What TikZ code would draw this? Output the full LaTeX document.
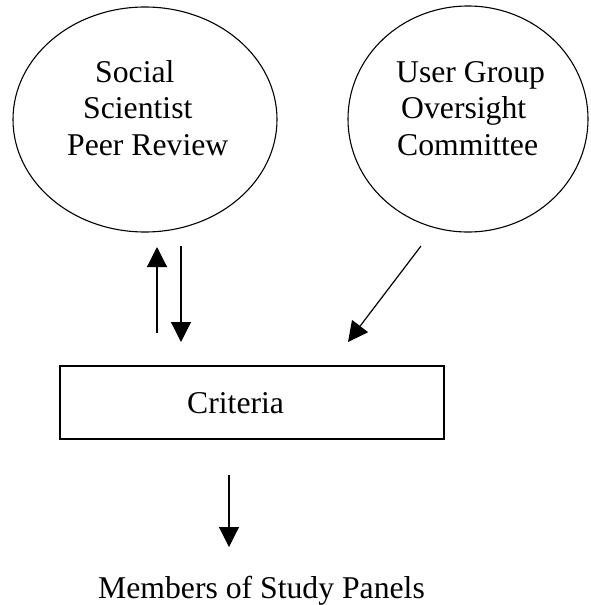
\documentclass[tikz,border=0pt]{standalone}
\usepackage{fontspec}
\setmainfont{Liberation Serif}
\usetikzlibrary{shapes.geometric,arrows.meta}
\begin{document}
\begin{tikzpicture}[x=1pt,y=-1pt,
  txt/.style={anchor=base west,inner sep=0pt,font=\fontsize{31.7}{38}\selectfont},
  oval/.style={draw,ellipse,line width=1.1pt,inner sep=0pt},
  arr/.style={line width=1.2pt,-{Triangle[length=20pt,width=20pt]}}]
\useasboundingbox (0,0) rectangle (591,605);
% ellipses
\node[oval,minimum width=264pt,minimum height=225pt] (ssp) at (145,119.5) {};
\node[oval,minimum width=240pt,minimum height=226pt] (ugo) at (468,119) {};
\node[txt] (l1) at (95,82) {Social};
\node[txt] (l2) at (83,118) {Scientist};
\node[txt] (l3) at (67,155) {Peer Review};
\node[txt] (r1) at (396,82) {User Group};
\node[txt] (r2) at (401,118) {Oversight};
\node[txt] (r3) at (397,155) {Committee};
% criteria box
\node[draw,line width=1.4pt,minimum width=384pt,minimum height=73pt,inner sep=0pt] (crit) at (252,402.5) {};
\node[txt] (ct) at (187,413) {Criteria};
\node[txt] (mem) at (98,598) {Members of Study Panels};
% arrow coordinates
\coordinate (ua) at (157,333);
\coordinate (ub) at (157,247);
\coordinate (da) at (181,246);
\coordinate (db) at (181,342);
\coordinate (ga) at (421,246);
\coordinate (gb) at (348,342);
\coordinate (ma) at (229,475);
\coordinate (mb) at (229,547);
\draw[arr] (ua) -- (ub);
\draw[arr] (da) -- (db);
\draw[arr] (ga) -- (gb);
\draw[arr] (ma) -- (mb);
\end{tikzpicture}
\end{document}
